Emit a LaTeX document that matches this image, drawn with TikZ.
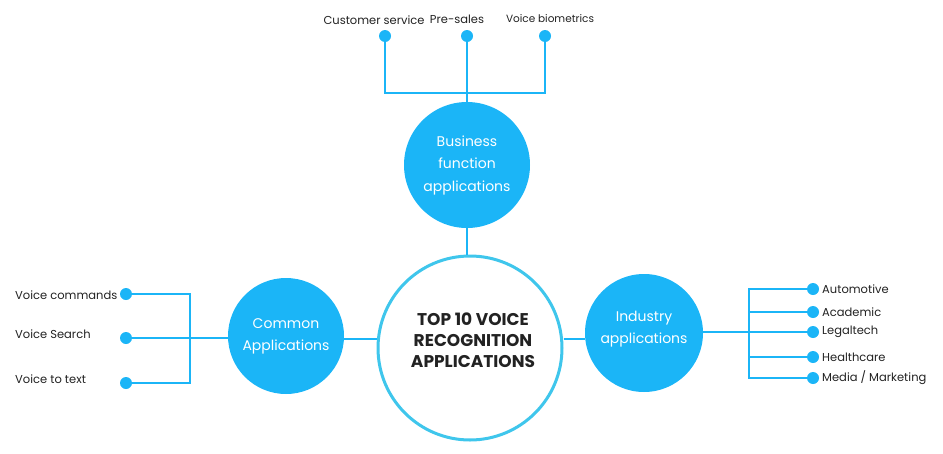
\documentclass[tikz,border=0pt]{standalone}
\usepackage{fontspec}
\setmainfont{Poppins}
\definecolor{dotblue}{HTML}{1BB5F7}
\definecolor{ringblue}{HTML}{3FC6EC}
\definecolor{txt}{HTML}{222222}
\begin{document}
\begin{tikzpicture}[x=1pt,y=-1pt,
  link/.style={draw=dotblue,line width=1.6pt},
  dotnode/.style={circle,fill=dotblue,inner sep=0pt,minimum size=12pt},
  hub/.style={circle,fill=dotblue,inner sep=0pt,text=white,align=center,font=\fontsize{14}{22}\selectfont},
  lbl/.style={text=txt,font=\fontsize{11.5}{13}\selectfont,inner sep=0pt}]
\useasboundingbox (0,0) rectangle (943,453);
% central
\node[circle,draw=ringblue,line width=3pt,fill=white,minimum size=184pt,inner sep=0pt] (center) at (470,348) {};
\node[align=center,font=\fontsize{17}{21}\selectfont\bfseries,text=txt,inner sep=0pt] (title) at (473,340) {TOP 10 VOICE\\RECOGNITION\\APPLICATIONS};
\node[hub,minimum size=126pt,font=\fontsize{14}{22.5}\selectfont] (biz) at (467,165) {Business\\function\\applications};
\node[hub,minimum size=116pt] (common) at (286,336) {Common\\Applications};
\node[hub,minimum size=118pt] (ind) at (644,333) {};
\node[text=white,align=center,font=\fontsize{14}{22}\selectfont,inner sep=0pt] (indtxt) at (644,329) {Industry\\applications};
% connections to center
\draw[link] (biz.south) -- (biz.south |- center.north);
\draw[link] (common.east |- 0,339) -- (center.west |- 0,339);
\draw[link] (center.east |- 0,339) -- (ind.west |- 0,339);
% top
\node[dotnode] (d1) at (385,36) {};
\node[dotnode] (d2) at (467,36) {};
\node[dotnode] (d3) at (545,36) {};
\coordinate (tj) at (467,93);
\draw[link] (d1) |- (tj) -| (d3);
\draw[link] (d2) -- (biz.north);
\node[lbl] (t1) at (374,20) {Customer service};
\node[lbl] (t2) at (457,19) {Pre-sales};
\node[lbl,font=\fontsize{10.5}{13}\selectfont] (t3) at (550,19) {Voice biometrics};
% left
\node[dotnode] (l1) at (126,294) {};
\node[dotnode] (l2) at (126,338) {};
\node[dotnode] (l3) at (126,383) {};
\coordinate (lj) at (190,338);
\draw[link] (l1) -| (190,383) -- (l3);
\draw[link] (l2) -- (lj);
\draw[link] (lj) -- (common.west |- lj);
\node[lbl,anchor=west] (ll1) at (15,295) {Voice commands};
\node[lbl,anchor=west] (ll2) at (15,334) {Voice Search};
\node[lbl,anchor=west] (ll3) at (15,379) {Voice to text};
% right
\node[dotnode] (r1) at (813,289) {};
\node[dotnode] (r2) at (813,312) {};
\node[dotnode] (r3) at (813,332) {};
\node[dotnode] (r4) at (813,357) {};
\node[dotnode] (r5) at (813,378) {};
\coordinate (rj) at (749,331);
\draw[link] (r1) -| (749,378) -- (r5);
\draw[link] (r2) -- (r2 -| rj);
\draw[link] (r4) -- (r4 -| rj);
\draw[link] (ind.east |- r3) -- (r3);
\node[lbl,anchor=west] (rl1) at (822,289) {Automotive};
\node[lbl,anchor=west] (rl2) at (822,312) {Academic};
\node[lbl,anchor=west] (rl3) at (822,332) {Legaltech};
\node[lbl,anchor=west] (rl4) at (822,357) {Healthcare};
\node[lbl,anchor=west] (rl5) at (822,378) {Media / Marketing};
\end{tikzpicture}
\end{document}
